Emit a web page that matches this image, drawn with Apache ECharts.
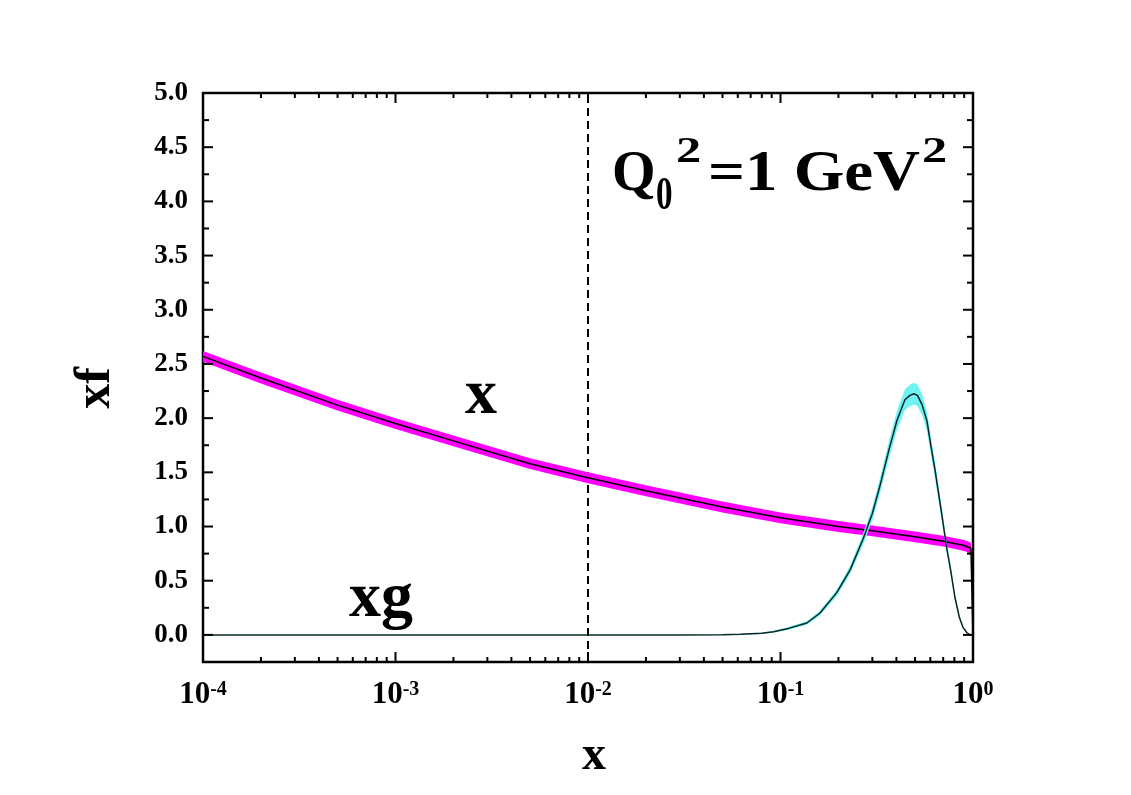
<!DOCTYPE html>
<html><head><meta charset="utf-8">
<script src="https://cdn.jsdelivr.net/npm/echarts@6/dist/echarts.min.js"></script>
<style>html,body{margin:0;padding:0;background:#fff}#c{width:1131px;height:795px}</style>
</head><body><div id="c"></div>
<script>
const FONT = "'Liberation Serif','Times New Roman',serif";
const xMin = 1e-4, xMax = 1, yMin = -0.25, yMax = 5;

// tick positions
const xMajorTicks = [1e-4, 1e-3, 1e-2, 1e-1, 1];
const xMinorTicks = [2e-4,3e-4,4e-4,5e-4,6e-4,7e-4,8e-4,9e-4,
                     2e-3,3e-3,4e-3,5e-3,6e-3,7e-3,8e-3,9e-3,
                     2e-2,3e-2,4e-2,5e-2,6e-2,7e-2,8e-2,9e-2,
                     0.2,0.3,0.4,0.5,0.6,0.7,0.8,0.9];
const yMajorTicks = [0,0.5,1,1.5,2,2.5,3,3.5,4,4.5,5];
const yMinorTicks = [0.25,0.75,1.25,1.75,2.25,2.75,3.25,3.75,4.25,4.75];

// quark-like distribution (magenta band)
const qX  = [1e-4, 2e-4, 5e-4, 1e-3, 2e-3, 5e-3, 1e-2, 2e-2, 5e-2, 0.1, 0.2, 0.3, 0.5, 0.7, 0.9, 0.975, 1.0];
const qY  = [2.57, 2.37, 2.12, 1.95, 1.79, 1.58, 1.45, 1.33, 1.18, 1.08, 1.00, 0.96, 0.905, 0.865, 0.825, 0.80, 0.0];
const qLo = [2.52, 2.32, 2.07, 1.90, 1.74, 1.53, 1.40, 1.28, 1.13, 1.03, 0.95, 0.91, 0.855, 0.815, 0.775, 0.75, 0.0];
const qHi = [2.62, 2.42, 2.17, 2.00, 1.84, 1.63, 1.50, 1.38, 1.23, 1.13, 1.05, 1.01, 0.955, 0.915, 0.875, 0.85, 0.0];

// gluon distribution (cyan band)
const gX  = [1e-4, 1e-2, 0.03, 0.05, 0.062, 0.08, 0.092, 0.11, 0.137, 0.16,
             0.196, 0.23, 0.268, 0.3, 0.329, 0.365, 0.403, 0.443, 0.47, 0.494,
             0.515, 0.545, 0.577, 0.605, 0.635, 0.658, 0.69, 0.729, 0.765, 0.805,
             0.85, 0.887, 0.93, 0.964, 1.0];
const gY  = [0, 0, 0, 0.002, 0.005, 0.015, 0.03, 0.06, 0.11, 0.20,
             0.39, 0.60, 0.88, 1.12, 1.38, 1.70, 1.98, 2.17, 2.21, 2.225,
             2.21, 2.12, 1.97, 1.74, 1.52, 1.34, 1.10, 0.81, 0.60, 0.35,
             0.16, 0.07, 0.02, 0, 0];
const gLo = [0, 0, 0, 0, 0.001, 0.009, 0.022, 0.048, 0.094, 0.18,
             0.36, 0.562, 0.83, 1.06, 1.31, 1.62, 1.89, 2.075, 2.11, 2.125,
             2.11, 2.025, 1.88, 1.66, 1.445, 1.27, 1.04, 0.76, 0.56, 0.32,
             0.14, 0.06, 0.015, 0, 0];
const gHi = [0, 0, 0, 0.004, 0.009, 0.021, 0.038, 0.072, 0.126, 0.22,
             0.42, 0.638, 0.93, 1.18, 1.45, 1.78, 2.07, 2.265, 2.31, 2.325,
             2.31, 2.215, 2.06, 1.82, 1.595, 1.41, 1.16, 0.86, 0.64, 0.38,
             0.18, 0.08, 0.025, 0, 0];

// dashed reference line at x = 0.01
const refX = [1e-2, 1e-2];
const refY = [yMin, yMax];

const zip = (a, b) => a.map((v, i) => [v, b[i]]);

function bandRenderer(xs, lo, hi, color) {
  return function (params, api) {
    if (params.dataIndex !== 0) return;
    const pts = [];
    for (let i = 0; i < xs.length; i++) pts.push(api.coord([xs[i], hi[i]]));
    for (let i = xs.length - 1; i >= 0; i--) pts.push(api.coord([xs[i], lo[i]]));
    return { type: 'polygon', shape: { points: pts }, style: { fill: color, stroke: null } };
  };
}

function renderTick(params, api) {
  const kind = api.value(2);
  const st = { stroke: '#000', lineWidth: 2 };
  if (kind < 2) {
    const v = api.value(0);
    const len = kind === 0 ? 10 : 5;
    const b = api.coord([v, yMin]);
    const t = api.coord([v, yMax]);
    return { type: 'group', children: [
      { type: 'line', shape: { x1: b[0], y1: b[1], x2: b[0], y2: b[1] - len }, style: st },
      { type: 'line', shape: { x1: t[0], y1: t[1], x2: t[0], y2: t[1] + len }, style: st }
    ]};
  } else {
    const v = api.value(1);
    const len = kind === 2 ? 10 : 6;
    const l = api.coord([xMin, v]);
    const r = api.coord([xMax, v]);
    return { type: 'group', children: [
      { type: 'line', shape: { x1: l[0], y1: l[1], x2: l[0] + len, y2: l[1] }, style: st },
      { type: 'line', shape: { x1: r[0], y1: r[1], x2: r[0] - len, y2: r[1] }, style: st }
    ]};
  }
}

const tickData = []
  .concat(xMajorTicks.map(v => [v, yMin, 0]))
  .concat(xMinorTicks.map(v => [v, yMin, 1]))
  .concat(yMajorTicks.map(v => [xMin, v, 2]))
  .concat(yMinorTicks.map(v => [xMin, v, 3]));

const chart = echarts.init(document.getElementById('c'), null, { renderer: 'canvas' });

function txt(x, y, text, size, align, extra) {
  return Object.assign({
    type: 'text', x: x, y: y, z: 100,
    style: { text: text, fill: '#000', fontSize: size, fontWeight: 'bold', fontFamily: FONT, align: align || 'left', verticalAlign: 'middle' }
  }, extra || {});
}

const option = {
  animation: false,
  backgroundColor: '#fff',
  grid: { left: 203, right: 158, top: 93, bottom: 133, show: true, borderColor: '#000', borderWidth: 2.5, backgroundColor: 'transparent' },
  xAxis: {
    type: 'log', logBase: 10, min: xMin, max: xMax,
    axisLine: { show: false }, axisTick: { show: false }, splitLine: { show: false }, minorTick: { show: false },
    axisLabel: {
      margin: 18, color: '#000',
      formatter: v => '{b|10}{s|' + Math.round(Math.log10(v)) + '}',
      rich: {
        b: { fontSize: 31, fontWeight: 'bold', fontFamily: FONT, color: '#000', lineHeight: 30 },
        s: { fontSize: 20, fontWeight: 'bold', fontFamily: FONT, color: '#000', verticalAlign: 'top', lineHeight: 18 }
      }
    }
  },
  yAxis: {
    type: 'value', min: yMin, max: yMax, interval: 0.25,
    axisLine: { show: false }, axisTick: { show: false }, splitLine: { show: false },
    axisLabel: {
      margin: 15, color: '#000', fontSize: 27, fontWeight: 'bold', fontFamily: FONT,
      formatter: v => (v > -1e-9 && Math.abs(v * 2 - Math.round(v * 2)) < 1e-6) ? v.toFixed(1) : ''
    }
  },
  series: [
    { type: 'line', name: 'ref', data: zip(refX, refY), showSymbol: false, symbol: 'none',
      lineStyle: { color: '#000', width: 2, type: [8, 5] }, z: 1 },
    { type: 'custom', name: 'qband', data: [[1e-2, 1]], clip: true, renderItem: bandRenderer(qX, qLo, qHi, '#ff00ff'), z: 2 },
    { type: 'line', name: 'x', data: zip(qX, qY), showSymbol: false, symbol: 'none', clip: true,
      lineStyle: { color: '#000', width: 1.5 }, z: 3 },
    { type: 'custom', name: 'gband', data: [[1e-2, 1]], clip: true, renderItem: bandRenderer(gX, gLo, gHi, '#6ff2f2'), z: 4 },
    { type: 'line', name: 'xg', data: zip(gX, gY), showSymbol: false, symbol: 'none', clip: true,
      lineStyle: { color: '#0a2626', width: 1.5 }, z: 5 },
    { type: 'custom', name: 'ticks', data: tickData, dimensions: ['x', 'y', 'k'], encode: { x: 0, y: 1 },
      clip: false, renderItem: renderTick, z: 10, silent: true }
  ],
  graphic: [
    txt(612, 176, 'Q', 56),
    txt(656, 197, '0', 46, 'left', { scaleX: 0.72 }),
    txt(676, 153, '2', 36, 'left', { scaleX: 1.4 }),
    txt(708, 176, '=1 GeV', 56, 'left', { scaleX: 1.16 }),
    txt(922, 153, '2', 36, 'left', { scaleX: 1.4 }),
    txt(481, 396, 'x', 64, 'center'),
    txt(349, 599, 'xg', 64),
    txt(594, 757, 'x', 48, 'center'),
    txt(96, 388, 'xf', 50, 'center', { rotation: Math.PI / 2 })
  ]
};
chart.setOption(option);
</script></body></html>
